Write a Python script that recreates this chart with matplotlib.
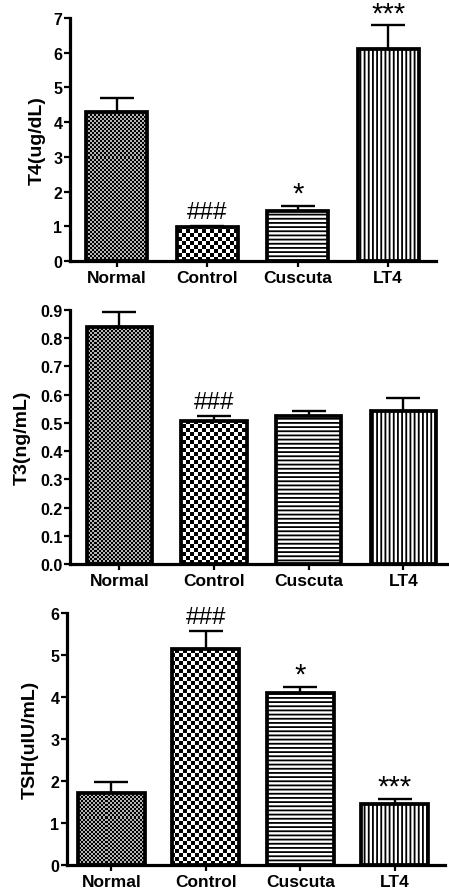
import numpy as np
import matplotlib
matplotlib.use('Agg')
import matplotlib.pyplot as plt
from matplotlib.colors import ListedColormap

plt.rcParams['font.family'] = ['Liberation Sans', 'DejaVu Sans']
plt.rcParams['hatch.linewidth'] = 1.3

groups = ['Normal', 'Control', 'Cuscuta', 'LT4']

t4_mean = [4.30, 0.97, 1.45, 6.11]
t4_sem = [0.40, 0.05, 0.14, 0.68]
t4_sig = ['', '###', '*', '***']

t3_mean = [0.838, 0.506, 0.524, 0.541]
t3_sem = [0.056, 0.020, 0.019, 0.046]
t3_sig = ['', '###', '', '']

tsh_mean = [1.72, 5.14, 4.09, 1.45]
tsh_sem = [0.25, 0.43, 0.16, 0.12]
tsh_sig = ['', '###', '*', '***']

W, H = 449, 895
fig = plt.figure(figsize=(W / 100, H / 100), dpi=100)


def add_axes(left, right, top, bottom):
    # pixel box -> figure fractions
    return fig.add_axes([left / W, 1 - bottom / H, (right - left) / W, (bottom - top) / H])


def checker(ax, rect, size, dark, light):
    bb = ax.get_window_extent()
    w, h = int(round(bb.width)), int(round(bb.height))
    yy, xx = np.mgrid[0:h, 0:w]
    arr = ((yy // size + xx // size) % 2).astype(float)
    x0, x1 = ax.get_xlim()
    y0, y1 = ax.get_ylim()
    im = ax.imshow(arr, extent=(x0, x1, y0, y1), origin='lower', aspect='auto',
                   cmap=ListedColormap([dark, light]), interpolation='nearest',
                   zorder=2.1)
    im.set_clip_path(rect)
    ax.set_xlim(x0, x1)
    ax.set_ylim(y0, y1)


def panel(ax, means, sems, sig, ylabel, ymax, ystep, xlim, width, fmt, labx):
    x = np.arange(len(groups))
    ax.set_xlim(*xlim)
    ax.set_ylim(0, ymax)
    ax.errorbar(x, means, yerr=[[0] * len(x), sems], fmt='none', ecolor='black',
                elinewidth=1.7, capsize=12, capthick=1.7, zorder=1.5)
    bars = ax.bar(x, means, width=width, color='white', edgecolor='none', zorder=2)
    bars[2].set_hatch('----')
    bars[2].set_edgecolor('black')
    bars[2].set_linewidth(0)
    bars[3].set_hatch('||||')
    bars[3].set_edgecolor('black')
    bars[3].set_linewidth(0)
    checker(ax, bars[0], 2, '#000000', '#b4b4b4')
    checker(ax, bars[1], 4, '#000000', '#ffffff')
    ax.bar(x, means, width=width, fill=False, edgecolor='black', linewidth=2.7, zorder=2.3)

    for i, s in enumerate(sig):
        if not s:
            continue
        top = means[i] + sems[i]
        if s.startswith('#'):
            ax.annotate(s, (x[i], top), xytext=(0, 8), textcoords='offset pixels',
                        ha='center', va='baseline', fontsize=17.5, annotation_clip=False)
        else:
            ax.annotate(s, (x[i], top), xytext=(0, 4), textcoords='offset pixels',
                        ha='center', va='baseline', fontsize=21, annotation_clip=False)

    for side in ['top', 'right']:
        ax.spines[side].set_visible(False)
    for side in ['left', 'bottom']:
        ax.spines[side].set_linewidth(2.3)
    ax.set_yticks(np.arange(0, ymax + ystep / 2, ystep))
    ax.yaxis.set_major_formatter(fmt)
    ax.set_xticks(x)
    ax.set_xticklabels(groups)
    ax.tick_params(axis='y', length=4, width=1.6, pad=1.5, labelsize=11.5)
    ax.tick_params(axis='x', length=4.5, width=1.6, pad=2, labelsize=12.5)
    for lab in ax.get_xticklabels() + ax.get_yticklabels():
        lab.set_fontweight('bold')
    ax.set_ylabel(ylabel, fontsize=14, fontweight='bold')
    ax.yaxis.set_label_coords(labx, 0.5)


ax1 = add_axes(70, 436, 19, 262)
panel(ax1, t4_mean, t4_sem, t4_sig, 'T4(ug/dL)', 7, 1, (-0.52, 3.53), 0.675, '{x:.0f}', -0.065)

ax2 = add_axes(70, 447, 311, 565)
panel(ax2, t3_mean, t3_sem, t3_sig, 'T3(ng/mL)', 0.9, 0.1, (-0.52, 3.46), 0.69, '{x:.1f}', -0.105)

ax3 = add_axes(67, 445, 614, 866)
panel(ax3, tsh_mean, tsh_sem, tsh_sig, 'TSH(uIU/mL)', 6, 1, (-0.47, 3.53), 0.71, '{x:.0f}', -0.075)

fig.savefig('out.png', dpi=100)
